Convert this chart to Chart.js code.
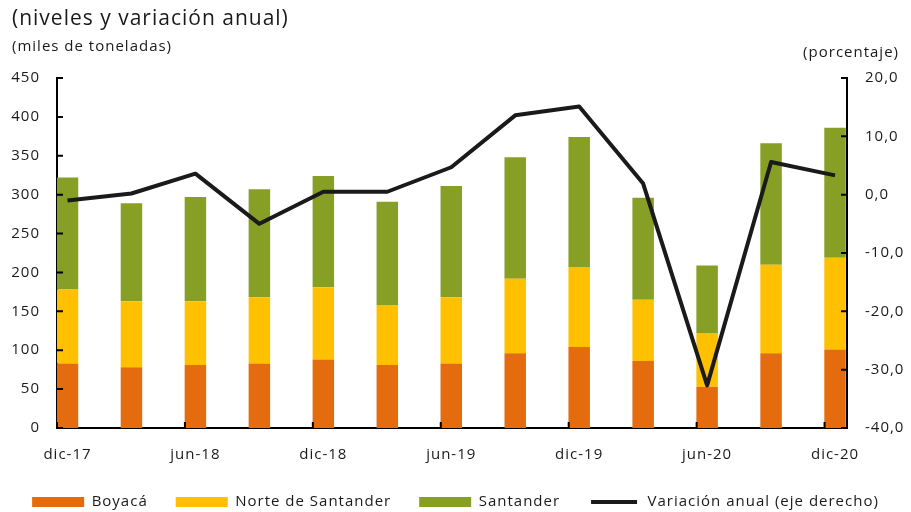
<!DOCTYPE html>
<html>
<head>
<meta charset="utf-8">
<script src="https://cdn.jsdelivr.net/npm/chart.js@4.4.1/dist/chart.umd.min.js"></script>
<style>
  html, body { margin: 0; padding: 0; background: #fff; }
  #wrap { width: 911px; height: 512px; }
</style>
</head>
<body>
<div id="wrap"><canvas id="chart"></canvas></div>
<script>
// datos trimestrales (miles de toneladas) y variación anual (%)
const categories = ['dic-17', 'mar-18', 'jun-18', 'sep-18', 'dic-18', 'mar-19', 'jun-19',
                    'sep-19', 'dic-19', 'mar-20', 'jun-20', 'sep-20', 'dic-20'];
const boyaca    = [83, 78, 81, 83, 88, 81, 83, 96, 104, 86, 53, 96, 101];
const norteSant = [95, 85, 82, 85, 93, 77, 85, 96, 103, 79, 69, 114, 118];
const santander = [144, 126, 134, 139, 143, 133, 143, 156, 167, 131, 87, 156, 167];
const variacion = [-1.0, 0.2, 3.6, -5.0, 0.5, 0.5, 4.7, 13.6, 15.1, 1.9, -32.7, 5.6, 3.3];
const xTickIdx  = [0, 2, 4, 6, 8, 10, 12];
const leftTicks = [0, 50, 100, 150, 200, 250, 300, 350, 400, 450];
const rightTicks = [-40, -30, -20, -10, 0, 10, 20];

const FONT = '"Open Sans", sans-serif';
const INK = '#1a1a1a';

const toPoints = arr => arr.map((v, i) => ({ x: i, y: v }));

const spacing = {
  id: 'spacing',
  beforeUpdate(chart) { chart.ctx.letterSpacing = '1px'; },
  beforeDraw(chart) { chart.ctx.letterSpacing = '1px'; }
};

const headerText = {
  id: 'headerText',
  afterDraw(chart) {
    const ctx = chart.ctx;
    ctx.save();
    ctx.fillStyle = INK;
    ctx.textBaseline = 'alphabetic';
    ctx.letterSpacing = '1px';
    ctx.textAlign = 'left';
    ctx.font = '21px ' + FONT;
    ctx.fillText('(niveles y variación anual)', 12, 25);
    ctx.font = '15px ' + FONT;
    ctx.fillText('(miles de toneladas)', 12, 51);
    ctx.textAlign = 'right';
    ctx.fillText('(porcentaje)', 899, 57);
    ctx.restore();
  }
};

// marcas de graduación hacia adentro
const tickMarks = {
  id: 'tickMarks',
  afterDatasetsDraw(chart) {
    const { ctx, chartArea: a, scales: { x, y, y2 } } = chart;
    ctx.save();
    ctx.strokeStyle = '#000';
    ctx.lineWidth = 2;
    ctx.beginPath();
    y.ticks.forEach(t => { const p = y.getPixelForValue(t.value); ctx.moveTo(a.left, p); ctx.lineTo(a.left + 6, p); });
    y2.ticks.forEach(t => { const p = y2.getPixelForValue(t.value); ctx.moveTo(a.right, p); ctx.lineTo(a.right - 6, p); });
    x.ticks.forEach(t => { const p = x.getPixelForValue(t.value + x.min); ctx.moveTo(p, a.bottom); ctx.lineTo(p, a.bottom - 6); });
    ctx.stroke();
    ctx.restore();
  }
};

Chart.defaults.font.family = FONT;
Chart.defaults.font.size = 15;
Chart.defaults.color = INK;

new Chart(document.getElementById('chart'), {
  data: {
    datasets: [
      {
        type: 'bar',
        label: 'Boyacá',
        data: toPoints(boyaca),
        backgroundColor: '#E46C0E',
        order: 1
      },
      {
        type: 'bar',
        label: 'Norte de Santander',
        data: toPoints(norteSant),
        backgroundColor: '#FFC000',
        order: 1
      },
      {
        type: 'bar',
        label: 'Santander',
        data: toPoints(santander),
        backgroundColor: '#879F24',
        order: 1
      },
      {
        type: 'line',
        label: 'Variación anual (eje derecho)',
        data: toPoints(variacion),
        yAxisID: 'y2',
        borderColor: INK,
        borderWidth: 4,
        borderJoinStyle: 'round',
        pointRadius: 0,
        tension: 0,
        order: 0
      }
    ]
  },
  options: {
    responsive: true,
    maintainAspectRatio: false,
    animation: false,
    datasets: { bar: { categoryPercentage: 1, barPercentage: 0.336 } },
    layout: { padding: { top: 78, left: 0, right: 0, bottom: -7.5 } },
    plugins: {
      tooltip: { enabled: false },
      legend: {
        position: 'bottom',
        labels: {
          boxWidth: 52,
          boxHeight: 10,
          padding: 28,
          font: { size: 15 },
          generateLabels(chart) {
            const items = Chart.defaults.plugins.legend.labels.generateLabels(chart);
            items.forEach(it => {
              if (chart.data.datasets[it.datasetIndex].type === 'line') {
                it.fillStyle = INK;
                it.strokeStyle = '#fff';
                it.lineWidth = 6;
              } else {
                it.lineWidth = 0;
              }
            });
            return items.sort((a, b) => a.datasetIndex - b.datasetIndex);
          }
        }
      }
    },
    scales: {
      x: {
        type: 'linear',
        offset: false,
        min: -0.164,
        max: 12.187,
        stacked: true,
        z: 1,
        grid: { display: false, drawTicks: false },
        border: { display: true, color: '#000', width: 2 },
        afterBuildTicks: s => { s.ticks = xTickIdx.map(v => ({ value: v })); },
        afterFit: s => { s.height = 38.5; },
        ticks: {
          autoSkip: false,
          maxRotation: 0,
          padding: 18,
          callback: v => categories[v]
        }
      },
      y: {
        position: 'left',
        min: 0,
        max: 450,
        stacked: true,
        z: 1,
        grid: { display: false, drawTicks: false },
        border: { display: true, color: '#000', width: 2 },
        afterBuildTicks: s => { s.ticks = leftTicks.map(v => ({ value: v })); },
        afterFit: s => { s.width = 57; },
        ticks: { padding: 17 }
      },
      y2: {
        position: 'right',
        min: -40,
        max: 20,
        z: 1,
        grid: { display: false, drawTicks: false },
        border: { display: true, color: '#000', width: 2 },
        afterBuildTicks: s => { s.ticks = rightTicks.map(v => ({ value: v })); },
        afterFit: s => { s.width = 64; },
        ticks: {
          padding: 18,
          callback: v => v.toFixed(1).replace('.', ',')
        }
      }
    }
  },
  plugins: [spacing, headerText, tickMarks]
});
</script>
</body>
</html>
